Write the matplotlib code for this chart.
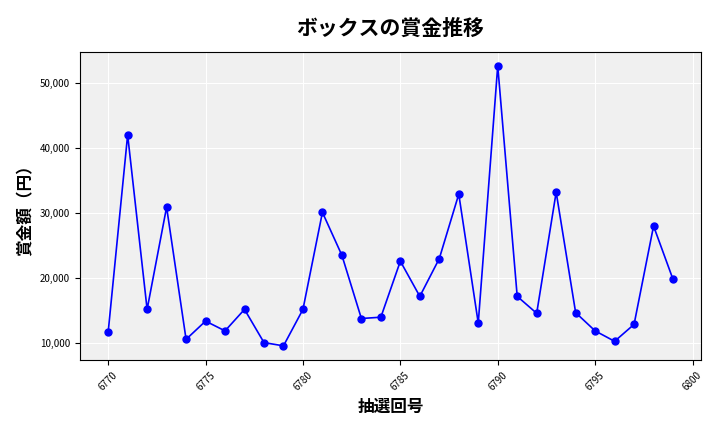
import matplotlib.pyplot as plt
from matplotlib.ticker import FuncFormatter

plt.rcParams['font.family'] = 'Noto Sans CJK JP'

draws = list(range(6770, 6800))
prizes = [11700, 42000, 15200, 30900, 10600, 13400, 11900, 15200, 10100, 9600,
          15200, 30100, 23500, 13800, 14000, 22600, 17200, 23000, 32900, 13100,
          52600, 17200, 14600, 33200, 14700, 11900, 10300, 12900, 28000, 19800]

fig, ax = plt.subplots(figsize=(7.2, 4.32), dpi=100)
fig.subplots_adjust(left=0.111, right=0.974, top=0.88, bottom=0.167)

ax.set_facecolor('#f0f0f0')
ax.grid(True, color='white', linewidth=0.8)
ax.set_axisbelow(True)
ax.plot(draws, prizes, color='blue', marker='o', markersize=5, linewidth=1.2)

ax.set_title('ボックスの賞金推移', fontsize=15, fontweight='bold', pad=12)
ax.set_xlabel('抽選回号', fontsize=12, fontweight='bold')
ax.set_ylabel('賞金額（円）', fontsize=12, fontweight='bold')
ax.yaxis.set_major_formatter(FuncFormatter(lambda v, p: f'{int(v):,}'))
ax.tick_params(axis='both', labelsize=7)
plt.setp(ax.get_xticklabels(), rotation=45)

fig.savefig('out.png')
